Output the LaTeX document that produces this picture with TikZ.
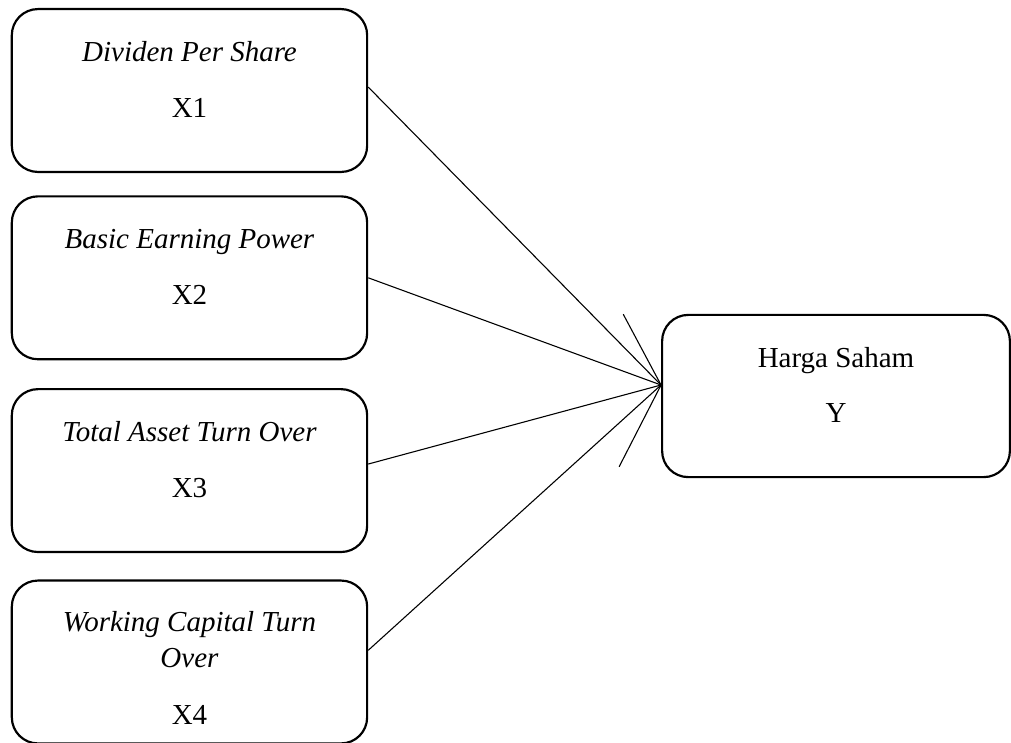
\documentclass[tikz,border=0pt]{standalone}
\usepackage{fontspec}
\setmainfont{Liberation Serif}
\usetikzlibrary{positioning}

\newcommand{\padbot}{\rule[-9pt]{0pt}{9pt}}
\newcommand{\padtop}{\rule{0pt}{13pt}}

\tikzset{
    varbox/.style = {
        rectangle, 
        rounded corners=0.38cm, 
        minimum width=5.17cm, 
        minimum height=2.37cm, 
        align=center, 
        draw=black, 
        line width=0.9pt,
        fill=white
    },
    link/.style = {
        line width=0.45pt
    }
}

\begin{document}
\begin{tikzpicture}[node distance=2.765cm, every node/.style={font=\fontsize{12}{15}\selectfont}] % boxes spaced evenly

\useasboundingbox (0,0) rectangle (14.71,-10.80);

\node (dps) [varbox] at (2.757,-1.317) {\textit{Dividen Per Share}\\[8pt] X1\padbot};
\node (bep) [varbox, below of=dps, yshift=0.04cm] {\textit{Basic Earning Power}\\[8pt] X2\padbot};
\node (tato) [varbox, below of=bep, yshift=-0.04cm] {\textit{Total Asset Turn Over}\\[8pt] X3\padbot};
\node (wcto) [varbox, below of=tato, yshift=-0.02cm] {\padtop\textit{Working Capital Turn}\\ \textit{Over}\\[8.5pt] X4};
\node (hs) [varbox, minimum width=5.06cm, minimum height=2.36cm] at (12.164,-5.762) {Harga Saham\\[8pt] Y\padbot};

\coordinate (tip) at ([yshift=0.16cm]hs.west);

% Arrows
\draw [link] ([yshift=0.05cm]dps.east) -- (tip);
\draw [link] (bep.east) -- (tip);
\draw [link] ([yshift=0.095cm]tato.east) -- (tip);
\draw [link] ([yshift=0.17cm]wcto.east) -- (tip);
\draw [link] ([shift={(-0.55,1.03)}]tip) -- (tip) -- ([shift={(-0.61,-1.19)}]tip);

\end{tikzpicture}
\end{document}
